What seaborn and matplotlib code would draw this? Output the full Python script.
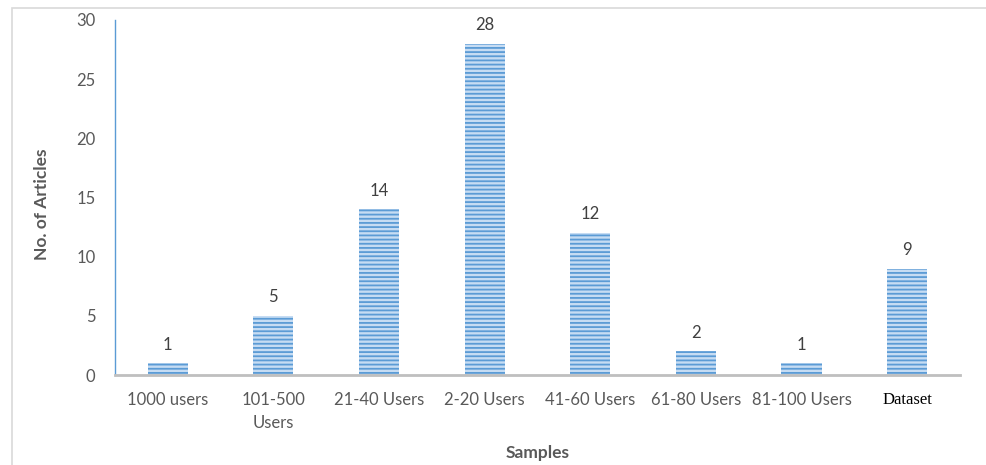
import matplotlib
matplotlib.use("Agg")
import matplotlib.pyplot as plt
import matplotlib.patches as mpatches
import seaborn as sns
import pandas as pd

# datos del grafico
categorias = ["1000 users", "101-500\nUsers", "21-40 Users", "2-20 Users",
              "41-60 Users", "61-80 Users", "81-100 Users", "Dataset"]
articulos = [1, 5, 14, 28, 12, 2, 1, 9]
yticks = [0, 5, 10, 15, 20, 25, 30]

df = pd.DataFrame({"cat": categorias, "n": articulos})

sns.set_style("white")
plt.rcParams["font.family"] = ["Lato", "DejaVu Sans"]
plt.rcParams["hatch.linewidth"] = 1.3
plt.rcParams["hatch.color"] = "#5B9BD5"

gris = "#595959"
fig = plt.figure(figsize=(9.86, 4.65), dpi=100)
ax = fig.add_axes([0.1166, 0.1935, 0.857, 0.7635])

sns.barplot(data=df, x="cat", y="n", color="#C6DCF3", width=0.38,
            saturation=1, ax=ax)
for p in ax.patches:
    p.set_hatch("----")
    p.set_edgecolor("#5B9BD5")
    p.set_linewidth(0)

# etiquetas de valor
for p, v in zip(ax.patches, articulos):
    ax.text(p.get_x() + p.get_width() / 2, v + 0.9, str(v), ha="center",
            va="bottom", fontsize=12, color="#404040")

ax.set_ylim(0, 30)
ax.set_xlim(-0.5, len(categorias) - 0.5)
ax.set_yticks(yticks)
ax.tick_params(axis="y", length=0, labelsize=12, labelcolor=gris, pad=14)
ax.tick_params(axis="x", length=0, labelsize=12, labelcolor=gris, pad=12)
labs = ax.get_xticklabels()
for l in labs:
    l.set_linespacing(1.55)
labs[-1].set_family("Liberation Serif")
labs[-1].set_color("black")

for s in ["top", "right"]:
    ax.spines[s].set_visible(False)
ax.spines["left"].set_color("#5B9BD5")
ax.spines["left"].set_linewidth(1)
ax.spines["bottom"].set_color("#BFBFBF")
ax.spines["bottom"].set_linewidth(2)

ax.set_xlabel("Samples", fontsize=12.5, fontweight="bold", color=gris)
ax.set_ylabel("No. of Articles", fontsize=12.5, fontweight="bold", color=gris)
ax.xaxis.set_label_coords(0.5, -0.22)
ax.yaxis.set_label_coords(-0.0864, 0.48)
ax.xaxis.label.set_va("center")
ax.yaxis.label.set_va("center")

# marco exterior
fig.patches.append(mpatches.Rectangle((12 / 986, -0.01), 1, 1 - 8 / 465 + 0.01,
                                      transform=fig.transFigure, fill=False,
                                      edgecolor="#D9D9D9", linewidth=1.2))

fig.savefig("out.png", dpi=100)
